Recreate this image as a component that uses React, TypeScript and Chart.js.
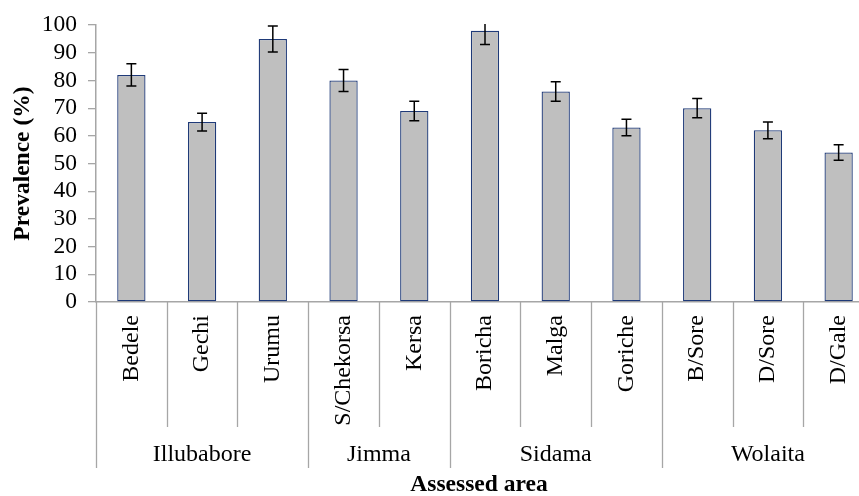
import React, { useEffect, useRef } from "react";
import { Chart, registerables } from "chart.js";

Chart.register(...registerables);

const categories = ["Bedele", "Gechi", "Urumu", "S/Chekorsa", "Kersa", "Boricha", "Malga", "Goriche", "B/Sore", "D/Sore", "D/Gale"];
const groups = ["Illubabore", "Jimma", "Sidama", "Wolaita"];
const groupSizes = [3, 2, 3, 3];
const prevalence = [82, 65, 95, 80, 69, 98, 76, 63, 70, 62, 54];
const errors = [4, 3.2, 4.7, 4, 3.5, 5, 3.5, 3, 3.5, 3, 2.8];
const yTicks = [0, 10, 20, 30, 40, 50, 60, 70, 80, 90, 100];

const FONT = "'Liberation Serif', 'Times New Roman', serif";
const AXIS_GRAY = "#A6A6A6";

const extrasPlugin = {
  id: "extras",
  afterDatasetsDraw(chart: any) {
    const ctx = chart.ctx;
    const area = chart.chartArea;
    const y = chart.scales.y;
    const meta = chart.getDatasetMeta(0);
    ctx.save();
    ctx.beginPath();
    ctx.rect(area.left, area.top - 1, area.right - area.left, area.bottom - area.top + 1);
    ctx.clip();
    ctx.strokeStyle = "#000";
    ctx.lineWidth = 1.5;
    meta.data.forEach((bar: any, i: number) => {
      const xc = bar.x;
      const yT = y.getPixelForValue(prevalence[i] + errors[i]);
      const yB = y.getPixelForValue(prevalence[i] - errors[i]);
      ctx.beginPath();
      ctx.moveTo(xc, yT);
      ctx.lineTo(xc, yB);
      ctx.moveTo(xc - 5, yT);
      ctx.lineTo(xc + 5, yT);
      ctx.moveTo(xc - 5, yB);
      ctx.lineTo(xc + 5, yB);
      ctx.stroke();
    });
    ctx.restore();
  },
  afterDraw(chart: any) {
    const ctx = chart.ctx;
    const area = chart.chartArea;
    const x = chart.scales.x;
    const step = x.getPixelForValue(1) - x.getPixelForValue(0);
    const left = x.getPixelForValue(0) - step / 2;
    const starts: number[] = [];
    let acc = 0;
    groupSizes.forEach((s) => {
      starts.push(acc);
      acc += s;
    });
    starts.push(acc);
    ctx.save();
    ctx.strokeStyle = AXIS_GRAY;
    ctx.lineWidth = 1.3;
    for (let k = 0; k <= categories.length; k++) {
      const px = Math.round(left + k * step) + 0.5;
      const isGroup = starts.includes(k);
      ctx.beginPath();
      ctx.moveTo(px, area.bottom);
      ctx.lineTo(px, isGroup ? 468 : 427);
      ctx.stroke();
    }
    ctx.fillStyle = "#000";
    ctx.font = `24px ${FONT}`;
    ctx.textAlign = "center";
    ctx.textBaseline = "middle";
    groups.forEach((g, gi) => {
      const cx = left + ((starts[gi] + starts[gi + 1]) / 2) * step;
      ctx.fillText(g, cx, 455);
    });
    ctx.font = `bold 23.5px ${FONT}`;
    ctx.fillText("Assessed area", 479, 485);
    ctx.translate(23, (area.top + area.bottom) / 2);
    ctx.rotate(-Math.PI / 2);
    ctx.fillText("Prevalence (%)", 0, 0);
    ctx.restore();
  },
};

export default function App() {
  const ref = useRef<HTMLCanvasElement>(null);
  useEffect(() => {
    if (!ref.current) return;
    const chart = new Chart(ref.current, {
      type: "bar",
      data: {
        labels: categories,
        datasets: [
          {
            data: prevalence,
            backgroundColor: "#BFBFBF",
            borderColor: "#1F3A78",
            borderWidth: 1.3,
            borderSkipped: false,
            barPercentage: 0.4,
            categoryPercentage: 1,
          },
        ],
      },
      options: {
        responsive: false,
        animation: false,
        devicePixelRatio: 1,
        layout: { padding: { left: 0, top: 23, right: 1, bottom: 0 } },
        plugins: { legend: { display: false }, tooltip: { enabled: false } },
        scales: {
          x: {
            grid: { display: false },
            border: { display: true, color: AXIS_GRAY, width: 1.5 },
            ticks: {
              color: "#000",
              font: { family: FONT, size: 24 },
              minRotation: 90,
              maxRotation: 90,
              padding: 5,
              autoSkip: false,
            },
            afterFit: (s: any) => {
              s.height = 194;
            },
          },
          y: {
            min: 0,
            max: 100,
            afterBuildTicks: (s: any) => {
              s.ticks = yTicks.map((v) => ({ value: v }));
            },
            grid: { drawOnChartArea: false, color: AXIS_GRAY, tickLength: 8, lineWidth: 1.3 },
            border: { display: true, color: AXIS_GRAY, width: 1.5 },
            ticks: { color: "#000", font: { family: FONT, size: 23.5 }, padding: 11, autoSkip: false },
            afterFit: (s: any) => {
              s.width = 96;
            },
          },
        },
      },
      plugins: [extrasPlugin],
    });
    return () => chart.destroy();
  }, []);
  return (
    <div style={{ position: "fixed", left: 0, top: 0, width: 859, height: 496, overflow: "hidden", background: "#fff" }}>
      <canvas ref={ref} width={875} height={496} style={{ display: "block" }} />
    </div>
  );
}
